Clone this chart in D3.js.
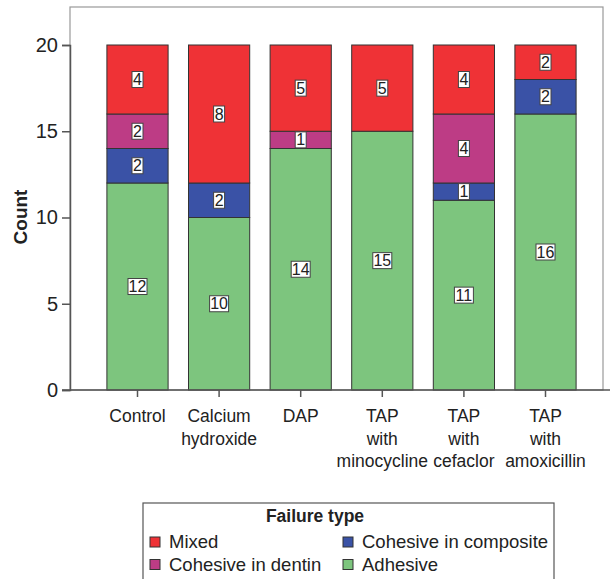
<!DOCTYPE html>
<html><head><meta charset="utf-8">
<script src="https://cdn.jsdelivr.net/npm/d3@7"></script>
<style>body{margin:0;background:#fff}svg{display:block}</style>
</head><body>
<svg id="c" width="610" height="579"></svg>
<script>
const categories = [["Control"],["Calcium","hydroxide"],["DAP"],["TAP","with","minocycline"],["TAP","with","cefaclor"],["TAP","with","amoxicillin"]];
const seriesNames = ["Adhesive","Cohesive in composite","Cohesive in dentin","Mixed"];
const adhesive  = [12,10,14,15,11,16];
const composite = [2,2,0,0,1,2];
const dentin    = [2,0,1,0,4,0];
const mixed     = [4,8,5,5,4,2];
const yTicks = [0,5,10,15,20];
const colors = {"Adhesive":"#7dc57e","Cohesive in composite":"#3a52a6","Cohesive in dentin":"#bd3c85","Mixed":"#ef3236"};
const legendOrder = [["Mixed","Cohesive in composite"],["Cohesive in dentin","Adhesive"]];

const svg = d3.select("#c");
const font = "Liberation Sans, Arial, sans-serif";
const x = d3.scaleBand().domain(d3.range(categories.length)).range([96.7,586.3]).paddingInner(0.25).paddingOuter(0.125);
const y = d3.scaleLinear().domain([0,20]).range([390,45]);

// frame
svg.append("rect").attr("x",70).attr("y",7).attr("width",533).attr("height",383)
  .attr("fill","none").attr("stroke","#999").attr("stroke-width",1.2);

const rows = categories.map((c,i)=>({i, "Adhesive":adhesive[i], "Cohesive in composite":composite[i], "Cohesive in dentin":dentin[i], "Mixed":mixed[i]}));
const stack = d3.stack().keys(seriesNames)(rows);

const g = svg.append("g");
stack.forEach(s=>{
  s.forEach(d=>{
    if (d[1]-d[0] <= 0) return;
    g.append("rect").attr("x",x(d.data.i)).attr("width",x.bandwidth())
      .attr("y",y(d[1])).attr("height",y(d[0])-y(d[1]))
      .attr("fill",colors[s.key]).attr("stroke","#333").attr("stroke-width",1);
  });
});
// labels
stack.forEach(s=>{
  s.forEach(d=>{
    const v = d[1]-d[0];
    if (v <= 0) return;
    const cx = x(d.data.i)+x.bandwidth()/2, cy = y((d[0]+d[1])/2);
    const t = String(v);
    const w = t.length>1 ? 19 : 11;
    g.append("rect").attr("x",cx-w/2).attr("y",cy-8).attr("width",w).attr("height",16)
      .attr("fill","#fff").attr("stroke","#444").attr("stroke-width",1);
    g.append("text").attr("x",cx).attr("y",cy+5.5).attr("text-anchor","middle")
      .attr("font-family",font).attr("font-size",16).attr("fill","#222").text(t);
  });
});

// y axis
const ya = svg.append("g").attr("transform","translate(70,0)")
  .call(d3.axisLeft(y).tickValues(yTicks).tickSize(8).tickPadding(4));
ya.select(".domain").attr("stroke","#555").attr("stroke-width",1.5);
ya.selectAll(".tick line").attr("stroke","#555").attr("stroke-width",1.5);
ya.selectAll(".tick text").attr("font-family",font).attr("font-size",20).attr("fill","#222");

// x axis
svg.append("line").attr("x1",62).attr("x2",610).attr("y1",390).attr("y2",390).attr("stroke","#555").attr("stroke-width",1.5);
const xa = svg.append("g").attr("transform","translate(0,390)")
  .call(d3.axisBottom(x).tickSize(7).tickFormat(""));
xa.select(".domain").remove();
xa.selectAll(".tick line").attr("stroke","#555").attr("stroke-width",1.5);
categories.forEach((lines,i)=>{
  const t = svg.append("text").attr("x",x(i)+x.bandwidth()/2).attr("y",422).attr("text-anchor","middle")
    .attr("font-family",font).attr("font-size",17.5).attr("fill","#222");
  lines.forEach((l,j)=>t.append("tspan").attr("x",x(i)+x.bandwidth()/2).attr("dy",j?22.5:0).text(l));
});

// y title
svg.append("text").attr("transform","translate(27,217) rotate(-90)").attr("text-anchor","middle")
  .attr("font-family",font).attr("font-size",19).attr("font-weight","bold").attr("fill","#222").text("Count");

// legend
const lg = svg.append("g");
lg.append("rect").attr("x",143).attr("y",503).attr("width",411).attr("height",90)
  .attr("fill","#fff").attr("stroke","#555").attr("stroke-width",1.2);
lg.append("text").attr("x",315).attr("y",522).attr("text-anchor","middle")
  .attr("font-family",font).attr("font-size",17.5).attr("font-weight","bold").attr("fill","#222").text("Failure type");
const colX = [150,343];
legendOrder.forEach((row,r)=>{
  row.forEach((name,c)=>{
    const yy = 548 + r*22.5;
    lg.append("rect").attr("x",colX[c]).attr("y",yy-11).attr("width",10).attr("height",10)
      .attr("fill",colors[name]).attr("stroke","#333").attr("stroke-width",1);
    lg.append("text").attr("x",colX[c]+19).attr("y",yy).attr("font-family",font).attr("font-size",18.5)
      .attr("fill","#222").text(name);
  });
});
</script>
</body></html>
